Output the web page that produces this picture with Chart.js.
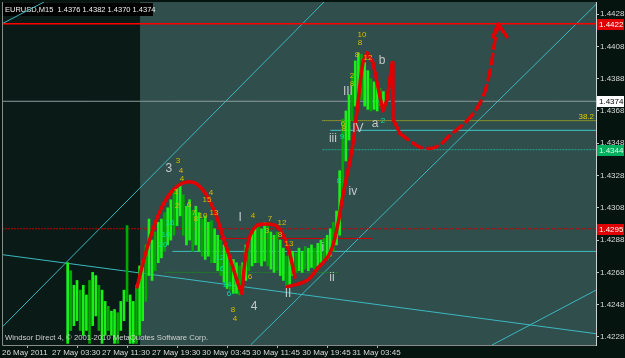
<!DOCTYPE html>
<html>
<head>
<meta charset="utf-8">
<script src="https://cdn.jsdelivr.net/npm/chart.js@4.4.0/dist/chart.umd.min.js"></script>
<style>
  html, body { margin: 0; padding: 0; background: #061410; }
  #wrap { width: 625px; height: 358px; }
</style>
</head>
<body>
<div id="wrap"><canvas id="chart" width="625" height="358"></canvas></div>
<script>
// M15 bar index of each plotted bar, with high / low prices
const barIdx = [
  42, 44, 46, 48, 50, 52, 54, 56, 58, 60,
  62, 64, 66, 68, 70, 72, 74, 76, 78, 80,
  82, 84, 86, 88, 90, 92, 94, 96, 98, 100,
  102, 104, 106, 108, 110, 112, 114, 116, 118, 120,
  122, 124, 126, 128, 130, 132, 134, 136, 138, 140,
  142, 144, 146, 148, 150, 152, 154, 156, 158, 160,
  162, 164, 166, 168, 170, 172, 174, 176, 178, 180,
  182, 184, 186, 188, 190, 192, 194, 196, 198, 200,
  202, 204, 206, 208, 210, 212, 214, 216, 218, 220,
  222, 224, 226, 228, 230, 232, 234, 236, 238, 240,
  242, 244
];
const barHigh = [
  1.4274, 1.4269, 1.4260, 1.4263, 1.4257, 1.4260, 1.4254, 1.4263, 1.4268, 1.4266,
  1.4260, 1.4257, 1.4250, 1.4247, 1.4244, 1.4245, 1.4243, 1.4250, 1.4257, 1.4297,
  1.4254, 1.4250, 1.4260, 1.4272, 1.4275, 1.4285, 1.4301, 1.4288, 1.4293, 1.4299,
  1.4301, 1.4305, 1.4308, 1.4313, 1.4319, 1.4322, 1.4323, 1.4316, 1.4309, 1.4313,
  1.4306, 1.4309, 1.4305, 1.4301, 1.4303, 1.4299, 1.4300, 1.4295, 1.4291, 1.4288,
  1.4285, 1.4281, 1.4278, 1.4276, 1.4274, 1.4272, 1.4274, 1.4285, 1.4288, 1.4293,
  1.4295, 1.4297, 1.4295, 1.4299, 1.4297, 1.4293, 1.4291, 1.4293, 1.4288, 1.4283,
  1.4278, 1.4280, 1.4281, 1.4280, 1.4283, 1.4281, 1.4284, 1.4283, 1.4285, 1.4283,
  1.4286, 1.4288, 1.4289, 1.4291, 1.4295, 1.4299, 1.4306, 1.4331, 1.4363, 1.4368,
  1.4378, 1.4390, 1.4399, 1.4404, 1.4403, 1.4398, 1.4393, 1.4388, 1.4386, 1.4384,
  1.4382, 1.4380
];
const barLow = [
  1.4224, 1.4232, 1.4235, 1.4238, 1.4232, 1.4229, 1.4232, 1.4224, 1.4235, 1.4241,
  1.4232, 1.4224, 1.4229, 1.4232, 1.4229, 1.4224, 1.4224, 1.4232, 1.4238, 1.4250,
  1.4224, 1.4224, 1.4224, 1.4229, 1.4238, 1.4250, 1.4266, 1.4263, 1.4269, 1.4274,
  1.4277, 1.4281, 1.4285, 1.4288, 1.4291, 1.4297, 1.4303, 1.4291, 1.4285, 1.4288,
  1.4281, 1.4285, 1.4281, 1.4278, 1.4276, 1.4278, 1.4274, 1.4274, 1.4269, 1.4266,
  1.4262, 1.4258, 1.4257, 1.4255, 1.4255, 1.4254, 1.4255, 1.4263, 1.4269, 1.4272,
  1.4274, 1.4274, 1.4272, 1.4275, 1.4272, 1.4270, 1.4268, 1.4269, 1.4266, 1.4263,
  1.4259, 1.4260, 1.4266, 1.4268, 1.4269, 1.4268, 1.4270, 1.4269, 1.4271, 1.4270,
  1.4272, 1.4274, 1.4275, 1.4276, 1.4278, 1.4281, 1.4285, 1.4291, 1.4313, 1.4337,
  1.4350, 1.4362, 1.4371, 1.4378, 1.4375, 1.4371, 1.4369, 1.4368, 1.4369, 1.4368,
  1.4371, 1.4372
];

// axes
const timeTickIdx = [0, 32, 64, 96, 128, 160, 192, 224];
const timeLabels = ['26 May 2011', '27 May 03:30', '27 May 11:30', '27 May 19:30',
  '30 May 03:45', '30 May 11:45', '30 May 19:45', '31 May 03:45'];
const priceTicks = [1.4228, 1.4248, 1.4268, 1.4288, 1.4308, 1.4328, 1.4348, 1.4368, 1.4388, 1.4408, 1.4428];
const priceMin = 1.4223;
const priceMax = 1.44355;
const idxMax = 380;
const shadeEndIdx = 88.3;

// price marks on the right axis
const badgePrices = [1.4422, 1.4374, 1.4344, 1.4295];
const badgeStyles = [['#e00000', '#ffffff'], ['#ffffff', '#000000'], ['#00b060', '#d8ffe0'], ['#e00000', '#ffffff']];

// horizontal levels: [price, fromIdx, toIdx]
const levelResist = [1.4422, 0, 380];
const levelBid = [1.4374, 0, 380];
const levelFib382 = [1.4362, 205, 380];
const levelCyanHigh = [1.4356, 210, 380];
const levelTeal = [1.4344, 205, 380];
const levelRedDot = [1.4295, 0, 380];
const levelRedThin = [1.4289, 139, 237];
const levelCyanLow = [1.4281, 109, 380];
const levelGreenDot = [1.4268, 104, 215];

// trend lines: [[idx, price], [idx, price]]
const lineUpA = [[0, 1.4234], [206, 1.44355]];
const lineUpB = [[159, 1.4223], [380, 1.4434]];
const lineUpC = [[0, 1.4422], [26.9, 1.44355]];
const lineUpD = [[313.5, 1.4223], [380, 1.4257]];
const lineDown = [[0, 1.4279], [380, 1.4230]];

// hand-drawn red wave path
const redHump1 = [[86.4, 1.4259], [92.8, 1.4283], [101.1, 1.4306], [109.4, 1.4319], [118.3, 1.4324],
  [126.7, 1.4321], [135.0, 1.4308], [141.4, 1.4290], [147.1, 1.4273], [151.0, 1.4261], [153.5, 1.4255]];
const redHump2 = [[153.5, 1.4255], [156.7, 1.4283], [161.8, 1.4296], [169.5, 1.4298], [176.6, 1.4296],
  [183.0, 1.4283], [187.4, 1.4265]];
const redRise = [[182.3, 1.4259], [195.1, 1.4263], [201.5, 1.4270], [209.8, 1.4280], [214.9, 1.4298],
  [218.1, 1.4316], [223.9, 1.4344], [227.7, 1.4373], [230.9, 1.4398], [233.5, 1.4404]];
const redZigzag = [[233.5, 1.4404], [237.3, 1.4398], [243.7, 1.4368], [246.3, 1.4375], [249.5, 1.4398],
  [250.1, 1.4363], [254.6, 1.4354]];
const redForecast = [[254.6, 1.4354], [263.0, 1.4348], [269.3, 1.4345], [278.3, 1.4346], [286.6, 1.4353],
  [299.4, 1.4364], [307.7, 1.4377], [312.2, 1.4393], [315.4, 1.4412], [317.3, 1.4421]];
const redArrow = [[314.1, 1.4414], [317.3, 1.4422], [323.0, 1.4414]];

// wave labels
const bigText = ['3', 'I', '4', 'II', 'i', 'ii', 'iv', 'iii', 'III', 'IV', 'a', 'b'];
const bigIdx = [106.8, 152.3, 161.2, 183.0, 205.3, 211.1, 224.5, 211.7, 221.3, 227.7, 238.6, 243.1];
const bigPrice = [1.4332, 1.4302, 1.4247, 1.4255, 1.4283, 1.4265, 1.4318, 1.4351, 1.4380, 1.4357, 1.4360, 1.4399];

const yellowText = ['3', '4', '4', '1', '2', '6', '7', '8', '10', '13', '15', '4', '8', '4', '4', '7', '12',
  '3', '8', '13', '6', '10', '8', '8', '2', '8', '12', '6', '8'];
const yellowIdx = [112.6, 114.5, 115.1, 111.3, 111.9, 119.6, 122.8, 124.1, 128.6, 135.6, 131.1, 133.7, 147.8,
  149.1, 160.6, 171.4, 179.1, 169.5, 177.8, 183.6, 158.6, 230.3, 229.0, 227.1, 223.9, 223.9, 234.1, 218.1, 218.8];
const yellowPrice = [1.4337, 1.4331, 1.4326, 1.4318, 1.4309, 1.4310, 1.4305, 1.4301, 1.4303, 1.4305, 1.4313,
  1.4317, 1.4245, 1.4239, 1.4303, 1.4301, 1.4299, 1.4294, 1.4291, 1.4286, 1.4265, 1.4415, 1.4410, 1.4403,
  1.4390, 1.4385, 1.4401, 1.4360, 1.4357];

const cyanText = ['20', '16', '10', '12', '6', '14', '6', '9', '2', '8'];
const cyanIdx = [103.0, 107.5, 104.9, 139.5, 140.7, 143.9, 145.2, 217.5, 243.7, 215.6];
const cyanPrice = [1.4285, 1.4299, 1.4291, 1.4277, 1.4270, 1.4260, 1.4255, 1.4352, 1.4362, 1.4325];

const FONT = "'Liberation Sans', Arial, sans-serif";

const toPts = (arr) => arr.map(p => ({ x: p[0], y: p[1] }));
const levelPts = (lv) => [{ x: lv[1], y: lv[0] }, { x: lv[2], y: lv[0] }];

function lineSet(data, color, width, dash, tension) {
  return {
    type: 'line', data: data, borderColor: color, borderWidth: width,
    borderDash: dash || [], pointRadius: 0, tension: tension || 0, order: 2,
    fill: false,
  };
}

const datasets = [
  // price bars
  {
    type: 'bar',
    data: barIdx.map((x, i) => ({ x: x, y: [barLow[i], barHigh[i]] })),
    backgroundColor: (ctx) => (ctx.dataIndex % 3 === 1 ? '#00a800' : '#18f018'),
    barThickness: 2,
    order: 1,
  },
  lineSet(levelPts(levelResist), '#ff0000', 1.5),
  lineSet(levelPts(levelBid), '#8c9c9c', 1),
  lineSet(levelPts(levelFib382), '#e0d000', 1, [1, 1]),
  lineSet(levelPts(levelCyanHigh), '#40c8c8', 1),
  lineSet(levelPts(levelTeal), '#20a890', 1, [2, 1]),
  lineSet(levelPts(levelRedDot), '#c80000', 1, [2, 1]),
  lineSet(levelPts(levelRedThin), '#d00000', 1),
  lineSet(levelPts(levelCyanLow), '#40c0c0', 1),
  lineSet(levelPts(levelGreenDot), '#1f8a1f', 1, [2, 1]),
  lineSet(toPts(lineUpA), '#3cb8c0', 1),
  lineSet(toPts(lineUpB), '#3cb8c0', 1),
  lineSet(toPts(lineUpC), '#3cb8c0', 1),
  lineSet(toPts(lineUpD), '#3cb8c0', 1),
  lineSet(toPts(lineDown), '#3cb8c0', 1),
];
[redHump1, redHump2, redRise].forEach(p => {
  const d = lineSet(toPts(p), '#e00000', 3.5, [], 0.4);
  d.order = 0; d.borderCapStyle = 'round';
  datasets.push(d);
});
[[redZigzag, []], [redForecast, [10, 6]], [redArrow, []]].forEach(([p, dash]) => {
  const d = lineSet(toPts(p), '#e00000', 3.5, dash, p === redForecast ? 0.4 : 0);
  d.order = 0; d.borderCapStyle = 'round'; d.borderJoinStyle = 'round';
  datasets.push(d);
});

const mtPlugin = {
  id: 'mt',
  beforeDraw(chart) {
    const { ctx, chartArea: a, scales } = chart;
    ctx.save();
    ctx.fillStyle = '#061410';
    ctx.fillRect(0, 0, chart.width, chart.height);
    ctx.fillStyle = '#2f4e4c';
    ctx.fillRect(a.left, a.top, a.right - a.left, a.bottom - a.top);
    ctx.fillStyle = '#0a1a16';
    const xs = scales.x.getPixelForValue(shadeEndIdx);
    ctx.fillRect(a.left, a.top, xs - a.left, a.bottom - a.top);
    ctx.restore();
  },
  beforeDatasetsDraw(chart) {
    const { ctx, chartArea: a } = chart;
    ctx.save();
    // header and footer texts sit under the drawn objects
    ctx.fillStyle = '#000000';
    ctx.fillRect(a.left + 1, a.top + 1, 150, 13);
    ctx.fillStyle = '#f0f0f0';
    ctx.font = '7.5px ' + FONT;
    ctx.textAlign = 'left';
    ctx.textBaseline = 'middle';
    ctx.fillText('EURUSD,M15  1.4376 1.4382 1.4370 1.4374', a.left + 3, a.top + 8);
    ctx.restore();
  },
  afterDatasetsDraw(chart) {
    const { ctx, chartArea: a, scales } = chart;
    const X = scales.x, Y = scales.y;
    ctx.save();
    ctx.textAlign = 'left';
    ctx.textBaseline = 'middle';
    ctx.font = '7.7px ' + FONT;
    ctx.fillStyle = '#d0d0d0';
    ctx.fillText('Windsor Direct 4, \u00a9 2001-2010 MetaQuotes Software Corp.', a.left + 3, a.bottom - 7);
    ctx.textAlign = 'center';
    ctx.font = '12px ' + FONT;
    ctx.fillStyle = '#c4c8c8';
    bigText.forEach((t, i) => ctx.fillText(t, X.getPixelForValue(bigIdx[i]), Y.getPixelForValue(bigPrice[i])));
    ctx.font = '8px ' + FONT;
    ctx.fillStyle = '#d8bc00';
    yellowText.forEach((t, i) => ctx.fillText(t, X.getPixelForValue(yellowIdx[i]), Y.getPixelForValue(yellowPrice[i])));
    ctx.fillStyle = '#00e0a8';
    cyanText.forEach((t, i) => ctx.fillText(t, X.getPixelForValue(cyanIdx[i]), Y.getPixelForValue(cyanPrice[i])));
    // fib label
    ctx.fillStyle = '#e0d000';
    ctx.textAlign = 'right';
    ctx.fillText('38.2', X.right - 2, Y.getPixelForValue(levelFib382[0]) - 4);
    ctx.restore();
  },
  afterDraw(chart) {
    const { ctx, chartArea: a, scales } = chart;
    ctx.save();
    // frame
    ctx.strokeStyle = '#8a8a8a';
    ctx.lineWidth = 1;
    ctx.beginPath();
    ctx.moveTo(a.left + 0.5, a.top);
    ctx.lineTo(a.left + 0.5, a.bottom + 0.5);
    ctx.lineTo(a.right, a.bottom + 0.5);
    ctx.stroke();
    ctx.strokeStyle = '#d0d0d0';
    ctx.beginPath();
    ctx.moveTo(a.right + 0.5, a.top);
    ctx.lineTo(a.right + 0.5, a.bottom + 1);
    ctx.stroke();
    // price badges
    ctx.font = '8px ' + FONT;
    ctx.textAlign = 'left';
    ctx.textBaseline = 'middle';
    badgePrices.forEach((p, i) => {
      const y = Math.round(scales.y.getPixelForValue(p));
      ctx.fillStyle = badgeStyles[i][0];
      ctx.fillRect(a.right + 1, y - 5, 27, 11);
      ctx.fillStyle = badgeStyles[i][1];
      ctx.fillText(p.toFixed(4), a.right + 3, y + 0.5);
    });
    ctx.restore();
  }
};

new Chart(document.getElementById('chart').getContext('2d'), {
  type: 'bar',
  data: { datasets: datasets },
  options: {
    responsive: false,
    animation: false,
    events: [],
    layout: { padding: { left: 2, top: 2, right: 0, bottom: 0 } },
    plugins: { legend: { display: false }, tooltip: { enabled: false } },
    scales: {
      x: {
        type: 'linear', min: 0, max: idxMax, offset: false,
        grid: { display: true, drawOnChartArea: false, tickLength: 3, color: '#b0b0b0' },
        border: { display: false },
        ticks: {
          autoSkip: false, maxRotation: 0, align: 'start', padding: 0,
          color: '#d8d8d8', font: { family: FONT, size: 8 },
          callback: (v, i) => timeLabels[i],
        },
        afterBuildTicks: (s) => { s.ticks = timeTickIdx.map(v => ({ value: v })); },
        afterFit: (s) => { s.height = 13; s.paddingLeft = 0; s.paddingRight = 0; },
      },
      y: {
        type: 'linear', position: 'right', min: priceMin, max: priceMax,
        grid: { display: true, drawOnChartArea: false, tickLength: 3, color: '#c0c0c0' },
        border: { display: false },
        ticks: {
          padding: 1, color: '#d8d8d8', font: { family: FONT, size: 8 },
          callback: (v) => v.toFixed(4),
        },
        afterBuildTicks: (s) => { s.ticks = priceTicks.map(v => ({ value: v })); },
        afterFit: (s) => { s.width = 29; s.paddingTop = 0; s.paddingBottom = 0; },
      },
    },
  },
  plugins: [mtPlugin],
});
</script>
</body>
</html>
